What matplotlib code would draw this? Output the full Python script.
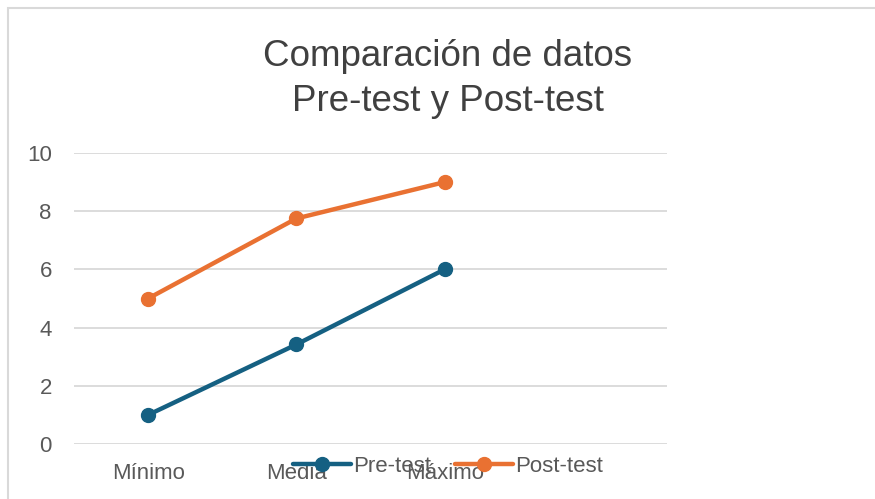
import matplotlib
matplotlib.use("Agg")
import matplotlib.pyplot as plt
from matplotlib.patches import Rectangle

plt.rcParams['font.family'] = ['Liberation Sans', 'DejaVu Sans']

categories = ["Mínimo", "Media", "Máximo"]
pre_test = [1, 3.42, 6]
post_test = [5, 7.75, 9]
yticks = [0, 2, 4, 6, 8, 10]

blue = "#156082"
orange = "#E97132"
grid_col = "#D9D9D9"
text_col = "#595959"

fig = plt.figure(figsize=(8.75, 4.99), dpi=100)
ax = fig.add_axes([74/875, 1-444/499, (667-74)/875, (444-153)/499])

x = list(range(len(categories)))
ax.plot(x, pre_test, color=blue, lw=3.2, marker="o", ms=10, label="Pre-test", solid_capstyle="round")
ax.plot(x, post_test, color=orange, lw=3.2, marker="o", ms=10, label="Post-test", solid_capstyle="round")

ax.set_xlim(-0.5, 3.5)
ax.set_ylim(0, 10)
ax.set_yticks(yticks)
ax.set_xticks(x)
ax.set_xticklabels(categories)
ax.tick_params(length=0, labelsize=16, colors=text_col, pad=14)
ax.tick_params(axis="y", pad=16)
ax.grid(axis="y", color=grid_col, lw=1.3)
ax.set_axisbelow(True)
for s in ax.spines.values():
    s.set_visible(False)

fig.text(0.512, 0.842, "Comparación de datos\nPre-test y Post-test", ha="center", va="center",
         fontsize=26.5, color="#404040", linespacing=1.38)

fig.legend(loc="center", bbox_to_anchor=(448/875, 1-466/499), ncol=2, frameon=False,
           fontsize=16, labelcolor=text_col, handlelength=2.6, handletextpad=0.1,
           columnspacing=1.1)

fig.patches.append(Rectangle((8/875, -0.1), 1.2, 1.1 - 8/499, transform=fig.transFigure,
                             fill=False, edgecolor=grid_col, lw=1.5))

fig.savefig("out.png", dpi=100)
